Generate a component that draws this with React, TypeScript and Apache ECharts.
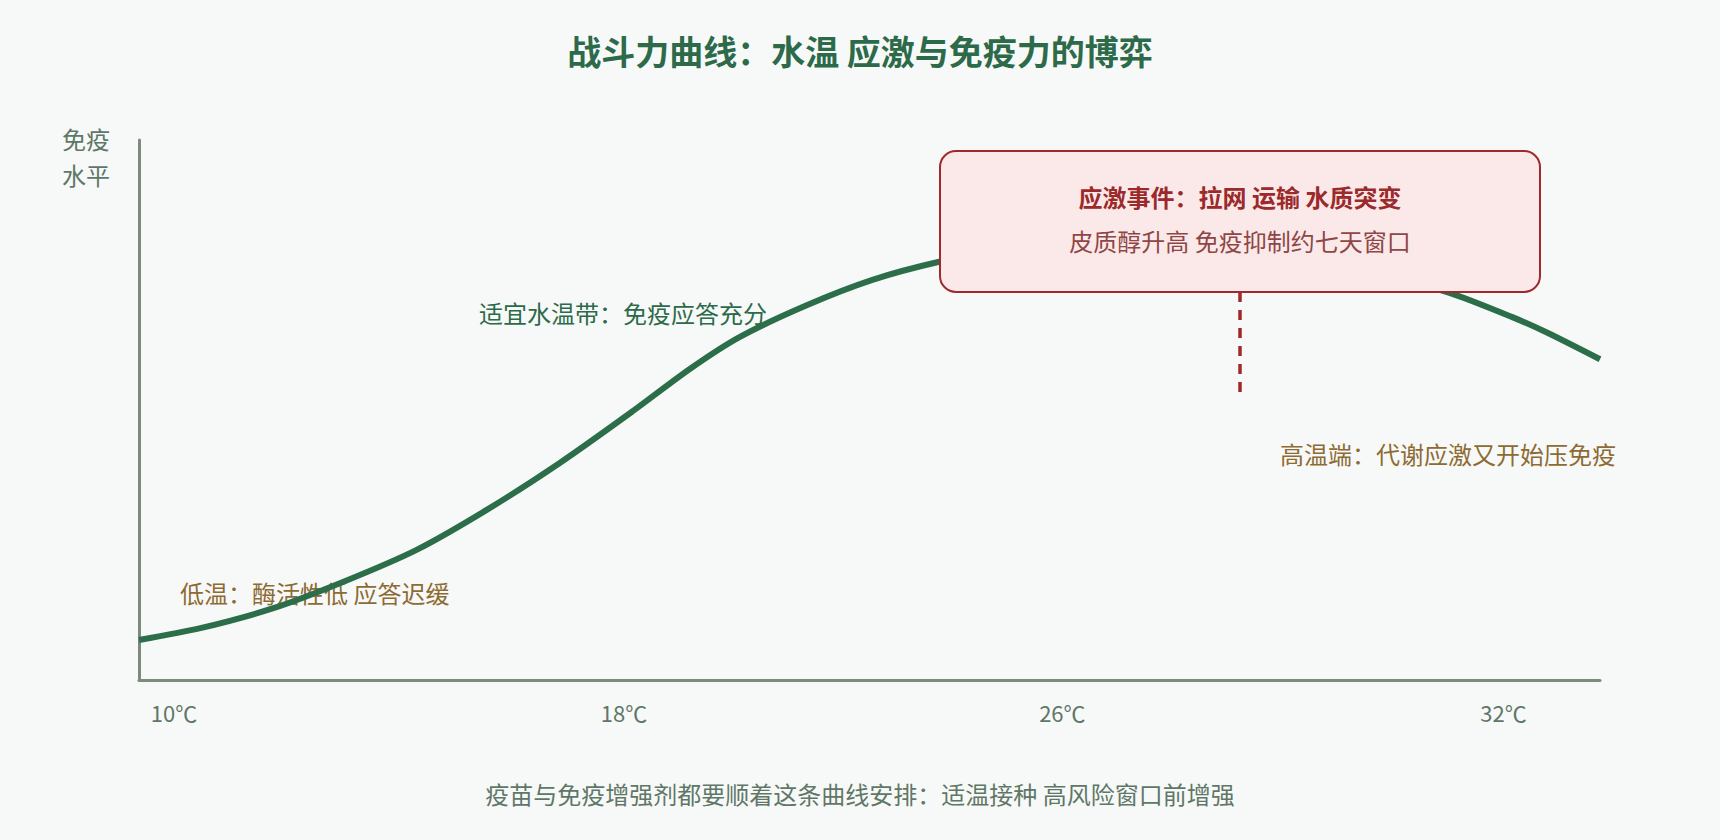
import React, { useEffect, useRef } from "react";
import * as echarts from "echarts";

// Curve: x = position along the temperature axis (0–100), y = immune level (0–100)
const curveX = [0, 4.2, 9.2, 14, 19, 23.8, 28.8, 33.6, 37.7, 41.1, 45.7, 50.2, 54.7, 60.3, 65.8, 71.3, 76.7, 82.9, 89.7, 94, 96.4, 100];
const curveY = [7.4, 9.6, 13.3, 18.2, 24.1, 31.5, 40.2, 49.4, 57.6, 63.5, 69.4, 74.1, 77.4, 80.4, 82, 81.5, 79.6, 76.7, 71.7, 67.2, 64.3, 59.4];

const tickPositions = [2.4, 33.2, 63.2, 93.4];
const tickLabels = ["10℃", "18℃", "26℃", "32℃"];

const titleText = "战斗力曲线：水温 应激与免疫力的博弈";
const yAxisName = "免疫\n水平";
const noteLow = "低温：酶活性低 应答迟缓";
const noteMid = "适宜水温带：免疫应答充分";
const noteHigh = "高温端：代谢应激又开始压免疫";
const calloutTitle = "应激事件：拉网 运输 水质突变";
const calloutBody = "皮质醇升高 免疫抑制约七天窗口";
const footerText = "疫苗与免疫增强剂都要顺着这条曲线安排：适温接种 高风险窗口前增强";

const FONT = '"Noto Sans CJK SC", "Noto Sans", sans-serif';

export default function App() {
  const ref = useRef<HTMLDivElement>(null);
  useEffect(() => {
    document.body.style.margin = "0";
    document.body.style.background = "#f7f9f8";
    const chart = echarts.init(ref.current!, undefined, { renderer: "svg" });
    const data = curveX.map((x, i) => [x, curveY[i]]);
    chart.setOption({
      animation: false,
      backgroundColor: "#f7f9f8",
      textStyle: { fontFamily: FONT },
      title: {
        text: titleText,
        left: "center",
        top: 28,
        textStyle: { fontFamily: FONT, fontSize: 34, fontWeight: "bold", color: "#2d6a4a" },
      },
      grid: { left: 139, right: 120, top: 140, bottom: 160 },
      xAxis: {
        type: "value",
        min: 0,
        max: 100,
        axisLine: { show: true, lineStyle: { color: "#7b8b7c", width: 3 } },
        axisTick: { show: false },
        splitLine: { show: false },
        axisLabel: {
          customValues: tickPositions,
          formatter: (v: number) => {
            const i = tickPositions.findIndex((p) => Math.abs(p - v) < 1e-6);
            return i >= 0 ? tickLabels[i] : "";
          },
          margin: 21,
          fontSize: 22,
          color: "#5f7767",
          fontFamily: FONT,
        },
      },
      yAxis: {
        type: "value",
        min: 0,
        max: 100,
        axisLine: { show: true, lineStyle: { color: "#7b8b7c", width: 3 } },
        axisTick: { show: false },
        axisLabel: { show: false },
        splitLine: { show: false },
      },
      series: [
        {
          type: "line",
          data,
          smooth: 0.25,
          showSymbol: false,
          lineStyle: { color: "#2c6e4a", width: 6 },
        },
      ],
      graphic: [
        {
          type: "text",
          right: 1720 - 110,
          top: 120,
          style: {
            text: yAxisName,
            fontFamily: FONT,
            fontSize: 24,
            lineHeight: 36,
            fill: "#5f7767",
            align: "right",
          },
        },
        {
          type: "text",
          x: 180,
          y: 592,
          style: { text: noteLow, fontFamily: FONT, fontSize: 24, fill: "#8d6b33", verticalAlign: "middle" },
        },
        {
          type: "text",
          x: 479,
          y: 312,
          style: { text: noteMid, fontFamily: FONT, fontSize: 24, fill: "#2d6a4a", verticalAlign: "middle" },
        },
        {
          type: "text",
          x: 1280,
          y: 453,
          style: { text: noteHigh, fontFamily: FONT, fontSize: 24, fill: "#8d6b33", verticalAlign: "middle" },
        },
        {
          type: "line",
          z: 95,
          shape: { x1: 1240, y1: 292, x2: 1240, y2: 392 },
          style: { stroke: "#a0292c", lineWidth: 3.5, lineDash: [10, 8] },
        },
        {
          type: "rect",
          z: 100,
          shape: { x: 940, y: 151, width: 600, height: 141, r: 16 },
          style: { fill: "#fbe9e9", stroke: "#a0292c", lineWidth: 2 },
        },
        {
          type: "text",
          z: 101,
          x: 1240,
          y: 196,
          style: {
            text: calloutTitle,
            fontFamily: FONT,
            fontSize: 24,
            fontWeight: "bold",
            fill: "#9b2a2c",
            align: "center",
            verticalAlign: "middle",
          },
        },
        {
          type: "text",
          z: 101,
          x: 1240,
          y: 240,
          style: {
            text: calloutBody,
            fontFamily: FONT,
            fontSize: 24,
            fill: "#8e4646",
            align: "center",
            verticalAlign: "middle",
          },
        },
        {
          type: "text",
          x: 860,
          y: 793,
          style: {
            text: footerText,
            fontFamily: FONT,
            fontSize: 24,
            fill: "#5f7767",
            align: "center",
            verticalAlign: "middle",
          },
        },
      ],
    });
    return () => chart.dispose();
  }, []);
  return <div ref={ref} style={{ width: 1720, height: 840 }} />;
}
